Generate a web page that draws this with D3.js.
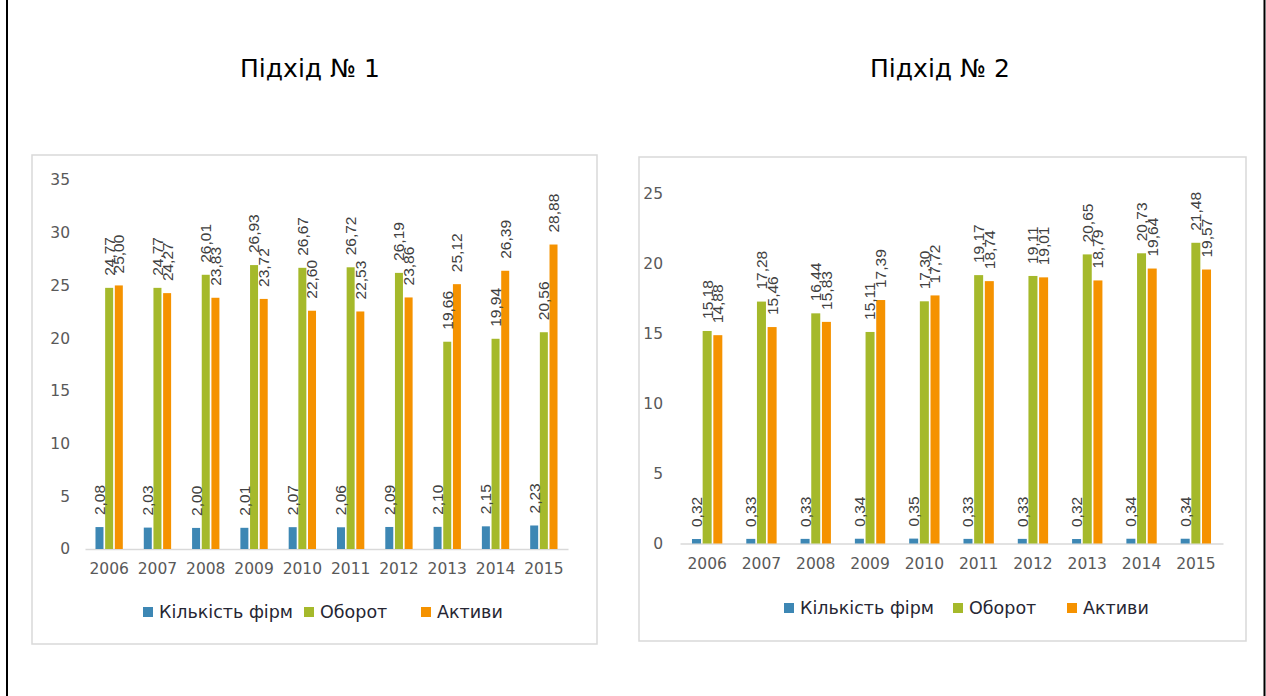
<!DOCTYPE html>
<html>
<head>
<meta charset="utf-8">
<script src="https://cdn.jsdelivr.net/npm/d3@7"></script>
<style>
  body { margin: 0; background: #fff; }
  svg { display: block; }
</style>
</head>
<body>
<div id="main"></div>
<script>
// data
var years = ["2006", "2007", "2008", "2009", "2010", "2011", "2012", "2013", "2014", "2015"];
var seriesNames = ["Кількість фірм", "Оборот", "Активи"];

var firms1    = [2.08, 2.03, 2.00, 2.01, 2.07, 2.06, 2.09, 2.10, 2.15, 2.23];
var turnover1 = [24.77, 24.77, 26.01, 26.93, 26.67, 26.72, 26.19, 19.66, 19.94, 20.56];
var assets1   = [25.00, 24.27, 23.83, 23.72, 22.60, 22.53, 23.86, 25.12, 26.39, 28.88];

var firms2    = [0.32, 0.33, 0.33, 0.34, 0.35, 0.33, 0.33, 0.32, 0.34, 0.34];
var turnover2 = [15.18, 17.28, 16.44, 15.11, 17.30, 19.17, 19.11, 20.65, 20.73, 21.48];
var assets2   = [14.88, 15.46, 15.83, 17.39, 17.72, 18.74, 19.01, 18.79, 19.64, 19.57];

var yTicks1 = [0, 5, 10, 15, 20, 25, 30, 35];
var yTicks2 = [0, 5, 10, 15, 20, 25];

var titles = ["Підхід № 1", "Підхід № 2"];

var colours = ["#3d87b4", "#a5b92b", "#f59200"];

var width = 1266, height = 696;
var svg = d3.select("#main").append("svg")
    .attr("width", width)
    .attr("height", height);

// outer frame (only left and right edges are visible)
svg.append("line").attr("x1", 7).attr("x2", 7).attr("y1", 0).attr("y2", height)
    .attr("stroke", "#000").attr("stroke-width", 2);
svg.append("line").attr("x1", 1264.5).attr("x2", 1264.5).attr("y1", 0).attr("y2", height)
    .attr("stroke", "#000").attr("stroke-width", 2);

var comma = d3.formatLocale({decimal: ",", thousands: " ", grouping: [3], currency: ["", ""]});
var fmt = comma.format(".2f");

function drawChart(cfg)
{
    // chart box
    svg.append("rect")
        .attr("x", cfg.box[0]).attr("y", cfg.box[1])
        .attr("width", cfg.box[2]).attr("height", cfg.box[3])
        .attr("fill", "#fff")
        .attr("stroke", "#d9d9d9")
        .attr("stroke-width", 1.5);

    svg.append("text")
        .attr("x", cfg.titleX).attr("y", 77)
        .attr("text-anchor", "middle")
        .attr("font-family", "DejaVu Sans")
        .attr("font-size", 25)
        .attr("fill", "#000")
        .text(cfg.title);

    var xScale = d3.scaleBand().domain(years).range([cfg.plot.left, cfg.plot.right]);
    var yScale = d3.scaleLinear().domain([0, d3.max(cfg.ticks)]).range([cfg.plot.bottom, cfg.plot.top]);

    var g = svg.append("g");

    // y tick labels (no axis line, no grid)
    var yAxis = g.append("g")
        .attr("transform", "translate(" + cfg.plot.left + ",0)")
        .call(d3.axisLeft(yScale).tickValues(cfg.ticks).tickSize(0).tickPadding(cfg.tickPad));
    yAxis.select(".domain").remove();
    yAxis.selectAll("text")
        .attr("font-family", "DejaVu Sans")
        .attr("font-size", 15.5)
        .attr("fill", "#595959");

    // x axis
    var xAxis = g.append("g")
        .attr("transform", "translate(0," + cfg.plot.bottom + ")")
        .call(d3.axisBottom(xScale).tickSize(0).tickPadding(14));
    xAxis.select(".domain").attr("stroke", "#d9d9d9").attr("stroke-width", 1.5);
    xAxis.selectAll("text")
        .attr("font-family", "DejaVu Sans")
        .attr("font-size", 15.5)
        .attr("fill", "#595959");

    var inner = d3.scaleBand().domain(seriesNames)
        .range([0, cfg.barW * 3 + cfg.gap * 2]);
    var groupW = cfg.barW * 3 + cfg.gap * 2;

    cfg.series.forEach(function (vals, si) {
        var name = seriesNames[si];
        g.selectAll(".bar" + si)
            .data(vals)
            .enter().append("rect")
            .attr("x", function (d, i) { return xScale(years[i]) + xScale.bandwidth() / 2 - groupW / 2 + inner(name) + (inner.bandwidth() - cfg.barW) / 2; })
            .attr("y", function (d) { return yScale(d); })
            .attr("width", cfg.barW)
            .attr("height", function (d) { return yScale(0) - yScale(d); })
            .attr("fill", colours[si]);
    });

    // rotated data labels
    cfg.series.forEach(function (vals, si) {
        var name = seriesNames[si];
        g.selectAll(".lbl" + si)
            .data(vals)
            .enter().append("text")
            .attr("transform", function (d, i) {
                var cx = xScale(years[i]) + xScale.bandwidth() / 2 - groupW / 2 + inner(name) + inner.bandwidth() / 2;
                var cy = yScale(d) - cfg.labelGap;
                return "translate(" + cx + "," + cy + ") rotate(-90)";
            })
            .attr("dy", "0.35em")
            .attr("text-anchor", "start")
            .attr("font-family", "Liberation Sans")
            .attr("font-size", 15.5)
            .attr("fill", "#404040")
            .text(function (d) { return fmt(d); });
    });

    // legend, item offsets
    var lg = svg.append("g").attr("transform", "translate(" + cfg.legend[0] + "," + cfg.legend[1] + ")");
    seriesNames.forEach(function (name, si) {
        var xpos = cfg.legendOffsets[si];
        lg.append("rect")
            .attr("x", xpos).attr("y", -5)
            .attr("width", 10).attr("height", 10)
            .attr("fill", colours[si]);
        lg.append("text")
            .attr("x", xpos + 16).attr("y", 0)
            .attr("dy", "0.35em")
            .attr("font-family", "DejaVu Sans")
            .attr("font-size", 17.5)
            .attr("fill", "#262633")
            .text(name);
    });
}

drawChart({
    title: titles[0], titleX: 310,
    box: [32, 155, 565, 489],
    plot: {left: 85, right: 568, top: 180, bottom: 549},
    ticks: yTicks1, tickPad: 15,
    series: [firms1, turnover1, assets1],
    barW: 8, gap: 2.5, labelGap: 12,
    legend: [143, 612], legendOffsets: [0, 161, 278]
});

drawChart({
    title: titles[1], titleX: 940,
    box: [639, 157, 607, 484],
    plot: {left: 680, right: 1223, top: 193.5, bottom: 543.5},
    ticks: yTicks2, tickPad: 17,
    series: [firms2, turnover2, assets2],
    barW: 9, gap: 2.5, labelGap: 12,
    legend: [784, 608], legendOffsets: [0, 169, 283]
});
</script>
</body>
</html>
